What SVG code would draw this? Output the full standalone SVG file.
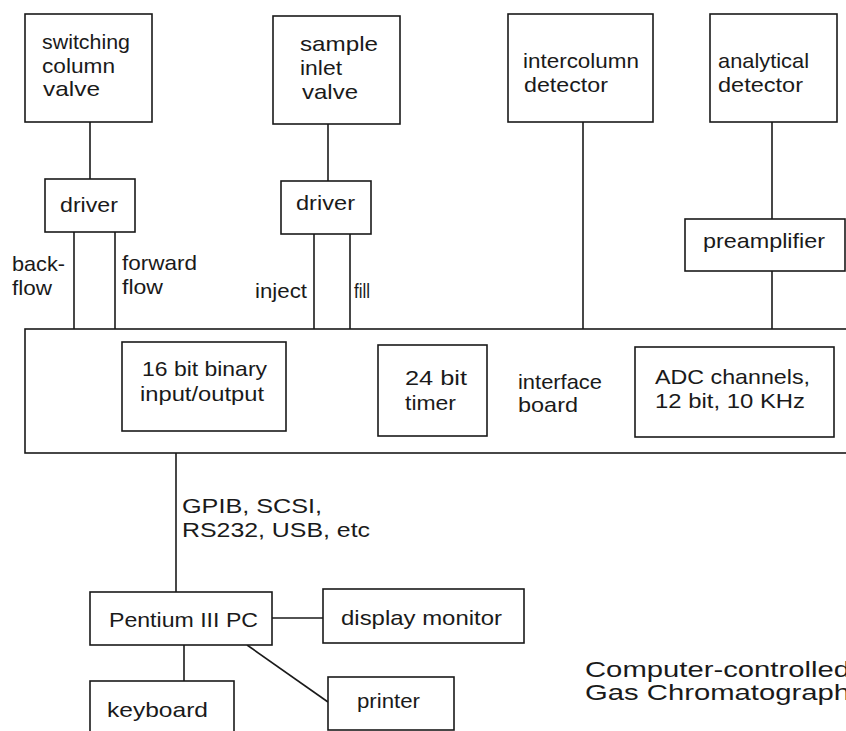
<svg xmlns="http://www.w3.org/2000/svg" width="846" height="731" viewBox="0 0 846 731">
  <style>
    .box { fill: #ffffff; stroke: #1a1a1a; stroke-width: 1.6; }
    .wire { stroke: #1a1a1a; stroke-width: 1.6; fill: none; }
    text { font-family: "Liberation Sans", Arial, sans-serif; font-size: 21px; fill: #1a1a1a; }
    .title { font-size: 22px; }
  </style>
  <rect width="846" height="731" fill="#ffffff"/>

  <!-- interface board (runs off the right edge) -->
  <g id="interface-board">
    <rect class="box" x="25" y="329" width="840" height="124"/>
    <text x="518" y="389" textLength="84" lengthAdjust="spacingAndGlyphs">interface</text>
    <text x="518" y="412" textLength="60" lengthAdjust="spacingAndGlyphs">board</text>
  </g>

  <!-- connectors -->
  <g id="connectors">
    <line class="wire" x1="90" y1="122" x2="90" y2="179"/>
    <line class="wire" x1="74" y1="232" x2="74" y2="329"/>
    <line class="wire" x1="115" y1="232" x2="115" y2="329"/>
    <line class="wire" x1="328" y1="124" x2="328" y2="181"/>
    <line class="wire" x1="314" y1="234" x2="314" y2="329"/>
    <line class="wire" x1="350" y1="234" x2="350" y2="329"/>
    <line class="wire" x1="583" y1="122" x2="583" y2="329"/>
    <line class="wire" x1="772" y1="122" x2="772" y2="219"/>
    <line class="wire" x1="772" y1="271" x2="772" y2="329"/>
    <line class="wire" x1="176" y1="453" x2="176" y2="592"/>
    <line class="wire" x1="272" y1="618" x2="323" y2="618"/>
    <line class="wire" x1="184" y1="645" x2="184" y2="681"/>
    <line class="wire" x1="247" y1="645" x2="328" y2="702"/>
  </g>

  <!-- connector labels -->
  <g id="labels">
    <text x="12" y="271" textLength="53" lengthAdjust="spacingAndGlyphs">back-</text>
    <text x="12" y="295" textLength="40" lengthAdjust="spacingAndGlyphs">flow</text>
    <text x="122" y="270" textLength="75" lengthAdjust="spacingAndGlyphs">forward</text>
    <text x="122" y="294" textLength="41" lengthAdjust="spacingAndGlyphs">flow</text>
    <text x="255" y="298" textLength="52" lengthAdjust="spacingAndGlyphs">inject</text>
    <text x="354" y="298" textLength="16" lengthAdjust="spacingAndGlyphs">fill</text>
    <text x="182" y="513" textLength="140" lengthAdjust="spacingAndGlyphs">GPIB, SCSI,</text>
    <text x="182" y="537" textLength="188" lengthAdjust="spacingAndGlyphs">RS232, USB, etc</text>
  </g>

  <g id="switching-column-valve">
    <rect class="box" x="25" y="14" width="127" height="108"/>
    <text x="42" y="49" textLength="88" lengthAdjust="spacingAndGlyphs">switching</text>
    <text x="42" y="73" textLength="73" lengthAdjust="spacingAndGlyphs">column</text>
    <text x="43" y="96" textLength="57" lengthAdjust="spacingAndGlyphs">valve</text>
  </g>

  <g id="driver-switching">
    <rect class="box" x="45" y="179" width="90" height="53"/>
    <text x="60" y="212" textLength="58" lengthAdjust="spacingAndGlyphs">driver</text>
  </g>

  <g id="sample-inlet-valve">
    <rect class="box" x="273" y="16" width="127" height="108"/>
    <text x="300" y="51" textLength="78" lengthAdjust="spacingAndGlyphs">sample</text>
    <text x="300" y="75" textLength="42" lengthAdjust="spacingAndGlyphs">inlet</text>
    <text x="302" y="99" textLength="56" lengthAdjust="spacingAndGlyphs">valve</text>
  </g>

  <g id="driver-sample">
    <rect class="box" x="281" y="181" width="90" height="53"/>
    <text x="296" y="210" textLength="59" lengthAdjust="spacingAndGlyphs">driver</text>
  </g>

  <g id="intercolumn-detector">
    <rect class="box" x="508" y="14" width="145" height="108"/>
    <text x="523" y="68" textLength="116" lengthAdjust="spacingAndGlyphs">intercolumn</text>
    <text x="524" y="92" textLength="84" lengthAdjust="spacingAndGlyphs">detector</text>
  </g>

  <g id="analytical-detector">
    <rect class="box" x="710" y="14" width="127" height="108"/>
    <text x="718" y="68" textLength="91" lengthAdjust="spacingAndGlyphs">analytical</text>
    <text x="718" y="92" textLength="85" lengthAdjust="spacingAndGlyphs">detector</text>
  </g>

  <g id="preamplifier">
    <rect class="box" x="685" y="219" width="160" height="52"/>
    <text x="703" y="248" textLength="122" lengthAdjust="spacingAndGlyphs">preamplifier</text>
  </g>

  <g id="binary-io">
    <rect class="box" x="122" y="342" width="164" height="89"/>
    <text x="142" y="376" textLength="125" lengthAdjust="spacingAndGlyphs">16 bit binary</text>
    <text x="140" y="401" textLength="124" lengthAdjust="spacingAndGlyphs">input/output</text>
  </g>

  <g id="timer">
    <rect class="box" x="378" y="345" width="109" height="91"/>
    <text x="405" y="385" textLength="62" lengthAdjust="spacingAndGlyphs">24 bit</text>
    <text x="405" y="410" textLength="51" lengthAdjust="spacingAndGlyphs">timer</text>
  </g>

  <g id="adc-channels">
    <rect class="box" x="635" y="347" width="199" height="90"/>
    <text x="655" y="384" textLength="155" lengthAdjust="spacingAndGlyphs">ADC channels,</text>
    <text x="655" y="408" textLength="150" lengthAdjust="spacingAndGlyphs">12 bit, 10 KHz</text>
  </g>

  <g id="pc">
    <rect class="box" x="90" y="592" width="182" height="53"/>
    <text x="109" y="627" textLength="149" lengthAdjust="spacingAndGlyphs">Pentium III PC</text>
  </g>

  <g id="display-monitor">
    <rect class="box" x="323" y="589" width="201" height="54"/>
    <text x="341" y="625" textLength="161" lengthAdjust="spacingAndGlyphs">display monitor</text>
  </g>

  <g id="keyboard">
    <rect class="box" x="90" y="681" width="144" height="60"/>
    <text x="107" y="717" textLength="101" lengthAdjust="spacingAndGlyphs">keyboard</text>
  </g>

  <g id="printer">
    <rect class="box" x="328" y="677" width="126" height="53"/>
    <text x="357" y="708" textLength="63" lengthAdjust="spacingAndGlyphs">printer</text>
  </g>

  <!-- caption runs past the right edge of the sheet -->
  <g id="caption">
    <text class="title" x="585" y="677" textLength="265" lengthAdjust="spacingAndGlyphs">Computer-controlled</text>
    <text class="title" x="585" y="700" textLength="265" lengthAdjust="spacingAndGlyphs">Gas Chromatograph</text>
  </g>
</svg>
